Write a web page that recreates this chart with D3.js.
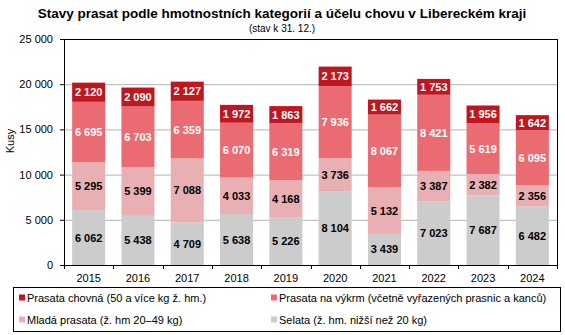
<!DOCTYPE html>
<html>
<head>
<meta charset="utf-8">
<script src="https://cdn.jsdelivr.net/npm/d3@7"></script>
<style>
  body { margin: 0; background: #fff; }
  svg { font-family: "Liberation Sans", Arial, sans-serif; }
</style>
</head>
<body>
<svg id="chart" width="565" height="335"></svg>
<script>
// stavy prasat k 31. 12., Liberecký kraj
const years    = ['2015', '2016', '2017', '2018', '2019', '2020', '2021', '2022', '2023', '2024']
const selata   = [6062, 5438, 4709, 5638, 5226, 8104, 3439, 7023, 7687, 6482]
const mlada    = [5295, 5399, 7088, 4033, 4168, 3736, 5132, 3387, 2382, 2356]
const vykrm    = [6695, 6703, 6359, 6070, 6319, 7936, 8067, 8421, 5619, 6095]
const chovna   = [2120, 2090, 2127, 1972, 1863, 2173, 1662, 1753, 1956, 1642]
const yTicks   = [0, 5000, 10000, 15000, 20000, 25000]

const series = [
    { key: 'selata', values: selata, color: '#cccccc', text: '#000', name: 'Selata (ž. hm. nižší než 20 kg)' },
    { key: 'mlada',  values: mlada,  color: '#e8b0b3', text: '#000', name: 'Mladá prasata (ž. hm 20–49 kg)' },
    { key: 'vykrm',  values: vykrm,  color: '#ea6b72', text: '#fff', name: 'Prasata na výkrm (včetně vyřazených prasnic a kanců)' },
    { key: 'chovna', values: chovna, color: '#c0161f', text: '#fff', name: 'Prasata chovná (50 a více kg ž. hm.)' }
]

const svg = d3.select('#chart')
const m = { left: 64, right: 557, top: 39, bottom: 265 }

const x = d3.scaleBand().domain(years).range([m.left, m.right]).paddingInner(0.33).paddingOuter(0.165)
const y = d3.scaleLinear().domain([0, 25000]).range([m.bottom, m.top])

const fmt = v => d3.format(',')(v).replace(/,/g, '\u00a0')

// title
svg.append('text').attr('x', 282).attr('y', 18).attr('text-anchor', 'middle')
    .attr('font-size', 13.5).attr('font-weight', 'bold').text('Stavy prasat podle hmotnostních kategorií a účelu chovu v Libereckém kraji')
svg.append('text').attr('x', 282).attr('y', 32).attr('text-anchor', 'middle')
    .attr('font-size', 10).text('(stav k 31. 12.)')

// grid
svg.append('g').selectAll('line').data(yTicks.slice(1)).join('line')
    .attr('x1', m.left).attr('x2', m.right)
    .attr('y1', d => y(d) + 0.5).attr('y2', d => y(d) + 0.5)
    .attr('stroke', '#b3b3b3').attr('stroke-width', 1)

// stacks
const table = years.map((yr, i) => {
    const row = { year: yr }
    series.forEach(s => row[s.key] = s.values[i])
    return row
})
const stacked = d3.stack().keys(series.map(s => s.key))(table)

stacked.forEach((layer, li) => {
    const s = series[li]
    const g = svg.append('g')
    g.selectAll('rect').data(layer).join('rect')
        .attr('x', d => x(d.data.year))
        .attr('width', x.bandwidth())
        .attr('y', d => y(d[1]))
        .attr('height', d => y(d[0]) - y(d[1]))
        .attr('fill', s.color)
    g.selectAll('text').data(layer).join('text')
        .attr('x', d => x(d.data.year) + x.bandwidth() / 2)
        .attr('y', d => (y(d[0]) + y(d[1])) / 2 + 4)
        .attr('text-anchor', 'middle')
        .attr('font-size', 11).attr('font-weight', 'bold')
        .attr('fill', s.text)
        .text(d => fmt(d.data[s.key]))
})

// frame
svg.append('line').attr('x1', m.left).attr('x2', m.right).attr('y1', m.top + 0.5).attr('y2', m.top + 0.5).attr('stroke', '#000')
svg.append('line').attr('x1', m.right + 0.5).attr('x2', m.right + 0.5).attr('y1', m.top).attr('y2', m.bottom).attr('stroke', '#000')

// axes
const yAxis = svg.append('g').attr('transform', `translate(${m.left},0)`)
    .call(d3.axisLeft(y).tickValues(yTicks).tickFormat(fmt).tickSizeOuter(0).tickSize(4).tickPadding(7))
yAxis.selectAll('text').attr('font-size', 11).attr('fill', '#000').attr('font-family', 'Liberation Sans, Arial, sans-serif')
yAxis.selectAll('path, line').attr('stroke', '#000')

const xAxis = svg.append('g').attr('transform', `translate(0,${m.bottom})`)
xAxis.append('line').attr('x1', m.left).attr('x2', m.right + 1).attr('y1', 0.5).attr('y2', 0.5).attr('stroke', '#000')
xAxis.selectAll('line.tick').data(d3.range(years.length + 1)).join('line')
    .attr('class', 'tick')
    .attr('x1', i => Math.round(m.left + i * (m.right - m.left) / years.length) + 0.5)
    .attr('x2', i => Math.round(m.left + i * (m.right - m.left) / years.length) + 0.5)
    .attr('y1', 0).attr('y2', 4).attr('stroke', '#000')
xAxis.selectAll('text').data(years).join('text')
    .attr('x', d => x(d) + x.bandwidth() / 2).attr('y', 17)
    .attr('text-anchor', 'middle').attr('font-size', 11).text(d => d)

svg.append('text').attr('transform', 'translate(14,141) rotate(-90)')
    .attr('text-anchor', 'middle').attr('font-size', 11).text('Kusy')

// legend
svg.append('rect').attr('x', 13.5).attr('y', 287.5).attr('width', 547).attr('height', 44)
    .attr('fill', 'none').attr('stroke', '#000')
const legendItems = [
    { s: series[3], x: 19,  y: 298 },
    { s: series[2], x: 271, y: 298 },
    { s: series[1], x: 19,  y: 320 },
    { s: series[0], x: 271, y: 320 }
]
const lg = svg.append('g').selectAll('g').data(legendItems).join('g')
    .attr('transform', d => `translate(${d.x},${d.y})`)
lg.append('rect').attr('x', 0).attr('y', -3.5).attr('width', 6).attr('height', 6).attr('fill', d => d.s.color)
lg.append('text').attr('x', 8).attr('y', 4).attr('font-size', 11).text(d => d.s.name)
</script>
</body>
</html>
